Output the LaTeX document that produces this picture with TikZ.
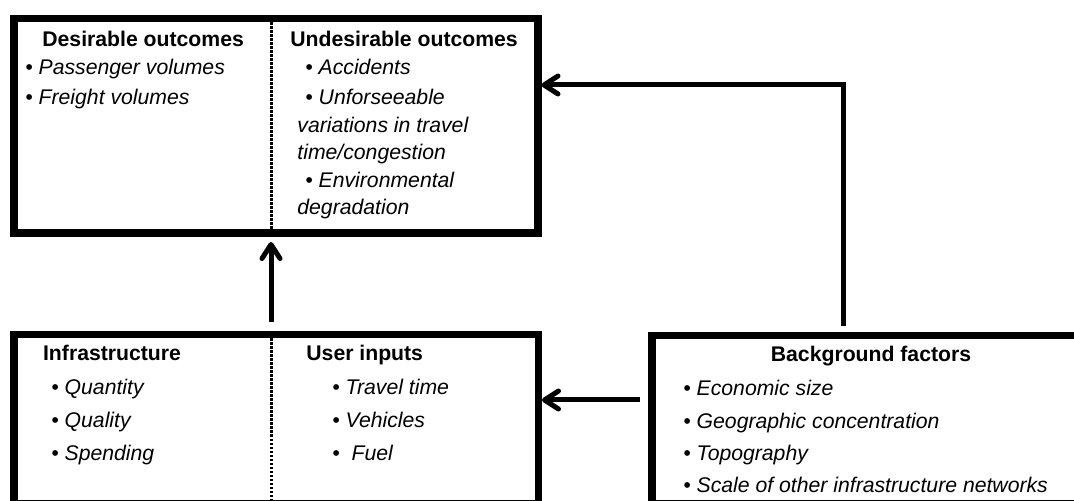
\documentclass[tikz,border=0pt]{standalone}
\usepackage{fontspec}
\setmainfont{Liberation Sans}
\usetikzlibrary{arrows.meta}
\begin{document}
\begin{tikzpicture}[x=0.5pt,y=-0.5pt,
  box/.style={draw,line width=3.75pt,inner sep=0pt,anchor=north west},
  divider/.style={line width=1.5pt,dash pattern=on 1.3pt off 0.7pt},
  conn/.style={line width=2.5pt,-{Straight Barb[length=7pt,width=9pt,round]}},
  hd/.style={font=\fontsize{10.6}{12.7}\selectfont\bfseries,inner sep=0pt,anchor=base west},
  it/.style={font=\fontsize{10.6}{12.7}\selectfont\itshape,inner sep=0pt,anchor=base west}]
\useasboundingbox (0,0) rectangle (1074,501);
% boxes
\node[box,minimum width=262pt,minimum height=107.25pt] (top) at (10,15) {};
\node[box,minimum width=262.25pt,minimum height=84.5pt] (bl) at (10,331) {};
\node[box,minimum width=222.25pt,minimum height=84pt] (bg) at (648,332) {};
% dividers
\coordinate (dx) at (271,0);
\draw[divider,shorten <=3.75pt,shorten >=3.75pt] (dx |- top.north) -- (dx |- top.south);
\draw[divider,shorten <=3.75pt] (dx |- bl.north) -- (dx |- bl.south);
% connectors
\draw[conn,shorten <=4.5pt,shorten >=2.5pt] (dx |- bl.north) -- (dx |- top.south);
\coordinate (bend) at (843.5,85);
\draw[conn,shorten <=3pt] (bend |- bg.north) -- (bend) -- (bend -| top.east);
\coordinate (midy) at (0,400);
\draw[conn,shorten <=4pt] (midy -| bg.west) -- (midy -| bl.east);
% top box texts
\node[hd] (h1) at (42,47) {Desirable outcomes};
\node[it] (d1) at (25,75) {• Passenger volumes};
\node[it] (d2) at (25,105) {• Freight volumes};
\node[hd] (h2) at (290,47) {Undesirable outcomes};
\node[it] (u1) at (305,75) {• Accidents};
\node[it] (u2) at (305,105) {• Unforseeable};
\node[it] (u3) at (297,133) {variations in travel};
\node[it] (u4) at (297,160) {time/congestion};
\node[it] (u5) at (305,188) {• Environmental};
\node[it] (u6) at (297,215) {degradation};
% bottom-left texts
\node[hd] (h3) at (42.7,361) {Infrastructure};
\node[it] (i1) at (51,394) {• Quantity};
\node[it] (i2) at (51,427) {• Quality};
\node[it] (i3) at (51,460) {• Spending};
\node[hd] (h4) at (306,361) {User inputs};
\node[it] (n1) at (332,394) {• Travel time};
\node[it] (n2) at (332,427) {• Vehicles};
\node[it] (n3) at (332,460) {• \ Fuel};
% background texts
\node[hd,anchor=base] (h5) at (871,362) {Background factors};
\node[it] (b1) at (683,395) {• Economic size};
\node[it] (b2) at (683,428) {• Geographic concentration};
\node[it] (b3) at (683,460) {• Topography};
\node[it] (b4) at (683,492) {• Scale of other infrastructure networks};
\end{tikzpicture}
\end{document}
